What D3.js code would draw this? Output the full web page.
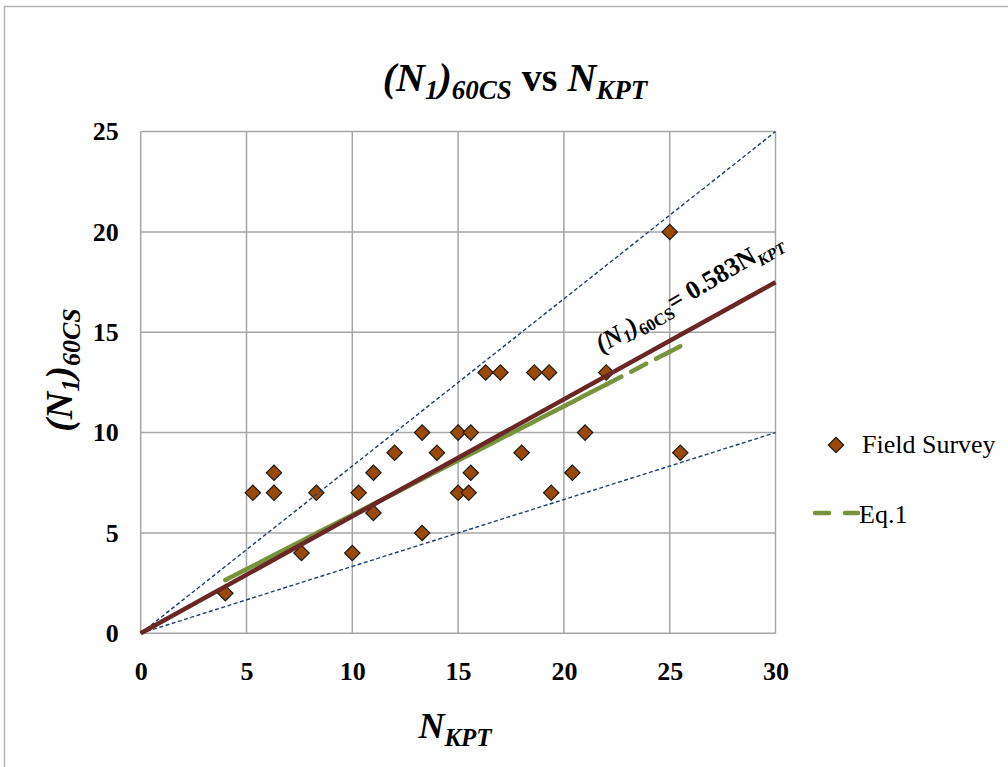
<!DOCTYPE html>
<html><head><meta charset="utf-8">
<script src="https://cdn.jsdelivr.net/npm/d3@7"></script>
<style>body{margin:0;background:#fff} text{font-family:"Liberation Serif","Times New Roman",serif;fill:#000}</style>
</head><body><svg id="c" width="1008" height="767"></svg>
<script>
// ---- data ----
const fieldX = [4,5.3,6.3,6.3,7.6,8.3,10,10.3,11,11,12,13.3,13.3,14,15,15,15.6,15.5,15.6,16.3,17,18.6,19.3,22,18,21,25.5,20.4,19.4,25];
const fieldY = [2,7,8,7,4,7,4,7,8,6,9,10,5,9,10,7,10,7,8,13,13,13,13,13,9,10,9,8,7,20];
const eq1X = [4,5.3,6.3,7.6,8.3,10,10.3,11,12,13.3,14,15,15.5,15.6,16.3,17,18,18.6,19.3,19.4,20.4,21,22,25,25.5];
const eq1Y = [2.65,3.35,3.90,4.60,4.98,5.90,6.06,6.44,6.98,7.69,8.07,8.61,8.88,8.93,9.31,9.69,10.23,10.56,10.94,10.99,11.53,11.86,12.40,14.03,14.30];
const fitX = [0,30], fitY = [0,17.49];
const upperX = [0,30], upperY = [0,25];
const lowerX = [0,30], lowerY = [0,10];
const xTicks = [0,5,10,15,20,25,30];
const yTicks = [0,5,10,15,20,25];

const svg = d3.select('#c');
const x = d3.scaleLinear().domain([0,30]).range([140.7,775.5]);
const y = d3.scaleLinear().domain([0,25]).range([633.3,131.6]);

// outer frame
svg.append('path').attr('d','M4.5,767 V6.5 H1008').attr('fill','none').attr('stroke','#b3b3b3').attr('stroke-width',1.5);

// grid
const grid = svg.append('g');
grid.selectAll('.vx').data(xTicks).join('line')
  .attr('x1',d=>x(d)).attr('x2',d=>x(d)).attr('y1',y(0)).attr('y2',y(25))
  .attr('stroke','#a6a6a6').attr('stroke-width',1.5);
grid.selectAll('.hy').data(yTicks).join('line')
  .attr('class','hy')
  .attr('y1',d=>y(d)).attr('y2',d=>y(d)).attr('x1',x(0)).attr('x2',x(30))
  .attr('stroke','#a6a6a6').attr('stroke-width',1.5);

// axes labels via d3 axes
const xAxis = svg.append('g').attr('transform',`translate(0,${y(0)})`)
  .call(d3.axisBottom(x).tickValues(xTicks).tickSize(0).tickPadding(28));
const yAxis = svg.append('g').attr('transform',`translate(${x(0)},0)`)
  .call(d3.axisLeft(y).tickValues(yTicks).tickSize(0).tickPadding(22));
[xAxis,yAxis].forEach(a=>{
  a.attr('font-family',null);
  a.select('.domain').remove();
  a.selectAll('text').attr('font-family','"Liberation Serif",serif').attr('font-size',26).attr('font-weight','bold').attr('fill','#000');
});

// points
const pts = fieldX.map((v,i)=>[v,fieldY[i]]);
const diamond = d3.symbol().type(d3.symbolSquare).size(118);
svg.append('g').selectAll('path').data(pts).join('path')
  .attr('d',diamond)
  .attr('transform',d=>`translate(${x(d[0])},${y(d[1])}) rotate(45)`)
  .attr('fill','#9a4a06').attr('stroke','#1a1a1a').attr('stroke-width',1.2);

const line = d3.line().x(d=>x(d[0])).y(d=>y(d[1]));
// bounds
[[upperX,upperY],[lowerX,lowerY]].forEach(([xs,ys])=>{
  svg.append('path').attr('d',line(xs.map((v,i)=>[v,ys[i]])))
    .attr('fill','none').attr('stroke','#1f3f6f').attr('stroke-width',1.4).attr('stroke-dasharray','4,2.5');
});

// Eq.1
const eqPts = eq1X.map((v,i)=>[v,eq1Y[i]]);
const solidPart = eqPts.filter(d=>d[0]<=22);
svg.append('path').attr('d',line(solidPart)).attr('fill','none')
  .attr('stroke','#77933c').attr('stroke-width',4.5).attr('stroke-linecap','round');
const dashPart = eqPts.filter(d=>d[0]>=22);
for(let i=0;i<dashPart.length-1;i++){
  svg.append('path').attr('d',line([dashPart[i],dashPart[i+1]])).attr('fill','none')
    .attr('stroke','#77933c').attr('stroke-width',4.5).attr('stroke-linecap','round')
    .attr('stroke-dasharray','17,11');
}

// fit line
svg.append('path').attr('d',line(fitX.map((v,i)=>[v,fitY[i]])))
  .attr('fill','none').attr('stroke','#6b2626').attr('stroke-width',4.5);

// rich text helper
function rich(sel, parts){
  parts.forEach(p=>{
    const t = sel.append('tspan').text(p.t);
    if(p.s) t.attr('font-size',p.s);
    if(p.i) t.attr('font-style','italic');
    if(p.dy) t.attr('dy',p.dy);
  });
}

// title
const title = svg.append('text').attr('x',515).attr('y',91).attr('text-anchor','middle')
  .attr('font-size',40).attr('font-weight','bold');
rich(title,[{t:'(N',i:1},{t:'1',i:1,s:27,dy:8},{t:')',i:1,dy:-8},{t:'60CS',i:1,s:27,dy:8},{t:' vs ',dy:-8},{t:'N',i:1},{t:'KPT',i:1,s:27,dy:8}]);

// y title
const yt = svg.append('text').attr('transform','translate(72,370) rotate(-90)').attr('text-anchor','middle')
  .attr('font-size',38).attr('font-weight','bold');
rich(yt,[{t:'(N',i:1},{t:'1',i:1,s:26,dy:7},{t:')',i:1,dy:-7},{t:'60CS',i:1,s:26,dy:8}]);

// x title
const xt = svg.append('text').attr('x',455).attr('y',738).attr('text-anchor','middle')
  .attr('font-size',36).attr('font-weight','bold');
rich(xt,[{t:'N',i:1},{t:'KPT',i:1,s:25,dy:8}]);

// annotation along fit line
const ang = Math.atan2(y(fitY[1])-y(fitY[0]), x(fitX[1])-x(fitX[0]))*180/Math.PI - 1.5;
const ax = 22.3, ay = fitY[1]/fitX[1]*ax;
const ann = svg.append('text').attr('transform',`translate(${x(ax)},${y(ay)}) rotate(${ang})`)
  .attr('y',-22).attr('font-size',26).attr('font-weight','bold');
rich(ann,[{t:'(N',i:1},{t:'1',i:1,s:17,dy:4},{t:')',i:1,dy:-4},{t:'60CS',s:17,dy:6},{t:'= 0.583',dy:-6},{t:'N'},{t:'KPT',i:1,s:16,dy:6}]);

// legend
svg.append('path').attr('d',diamond).attr('transform','translate(836,445) rotate(45)')
  .attr('fill','#9a4a06').attr('stroke','#1a1a1a').attr('stroke-width',1.2);
svg.append('text').attr('x',862).attr('y',453).attr('font-size',26).text('Field Survey');
svg.append('line').attr('x1',815).attr('x2',858).attr('y1',513).attr('y2',513)
  .attr('stroke','#77933c').attr('stroke-width',4.5).attr('stroke-linecap','round').attr('stroke-dasharray','14,16');
svg.append('text').attr('x',859).attr('y',523).attr('font-size',26).text('Eq.1');
</script></body></html>
